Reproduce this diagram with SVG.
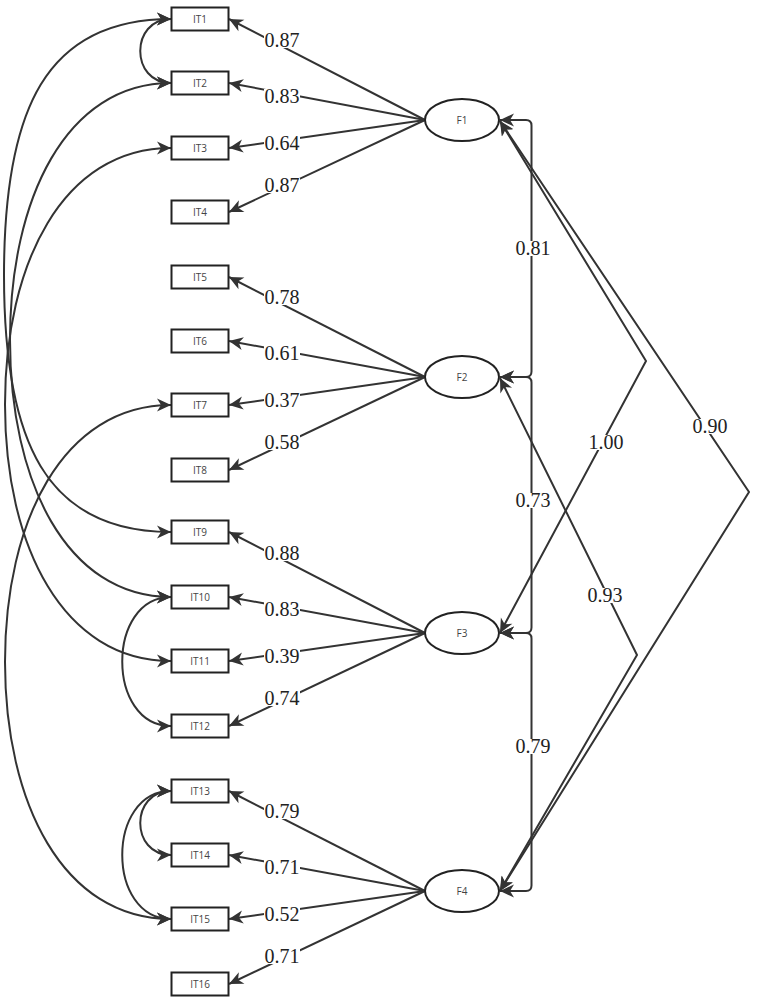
<svg xmlns="http://www.w3.org/2000/svg" width="760" height="1005" viewBox="0 0 760 1005">
<style>
.ln{fill:none;stroke:#333;stroke-width:2}
.lo{fill:none;stroke:#333;stroke-width:2;marker-end:url(#ar)}
.cv{fill:none;stroke:#333;stroke-width:2;marker-start:url(#ar);marker-end:url(#ar)}
.bx{fill:#fff;stroke:#222;stroke-width:2}
.el{fill:#fff;stroke:#222;stroke-width:2}
.bt{font-family:"Open Sans","Liberation Sans",sans-serif;font-size:10px;fill:#444;text-anchor:middle}
.lb{font-family:"Liberation Serif","Times New Roman",serif;font-size:20px;fill:#222;text-anchor:middle}
.bg{fill:#fff}
</style>
<defs>
<marker id="ar" viewBox="-15 -8 16 16" refX="0" refY="0" markerWidth="16" markerHeight="16" markerUnits="userSpaceOnUse" orient="auto-start-reverse">
<path d="M0,0 L-14,-6.5 L-10,0 L-14,6.5 Z" fill="#333"/>
</marker>
</defs>
<g id="connectors">
<path class="lo" d="M425,120 L229,19"/>
<path class="lo" d="M425,120 L229,83"/>
<path class="lo" d="M425,120 L229,148"/>
<path class="lo" d="M425,120 L229,212"/>
<path class="lo" d="M425,377 L229,277"/>
<path class="lo" d="M425,377 L229,341"/>
<path class="lo" d="M425,377 L229,405"/>
<path class="lo" d="M425,377 L229,470"/>
<path class="lo" d="M425,633 L229,532"/>
<path class="lo" d="M425,633 L229,597"/>
<path class="lo" d="M425,633 L229,661"/>
<path class="lo" d="M425,633 L229,726"/>
<path class="lo" d="M425,891 L229,791"/>
<path class="lo" d="M425,891 L229,855"/>
<path class="lo" d="M425,891 L229,919"/>
<path class="lo" d="M425,891 L229,984"/>
<path class="cv" d="M171,19 C130,19 130,83 171,83"/>
<path class="cv" d="M171,19 C46,19 4,109 4,275.5 C4,442 46,532 171,532"/>
<path class="cv" d="M171,83 C66,83 10,199 10,340 C10,481 66,597 171,597"/>
<path class="cv" d="M171,148 C63,148 5,263 5,404.5 C5,546 63,661 171,661"/>
<path class="cv" d="M171,405 C63,405 5,521 5,662 C5,803 63,919 171,919"/>
<path class="cv" d="M171,597 C106,597 106,726 171,726"/>
<path class="cv" d="M171,791 C130,791 130,855 171,855"/>
<path class="cv" d="M171,791 C106,791 106,919 171,919"/>
<path class="cv" d="M500,120 H526 Q531.5,120 531.5,125.5 V371.5 Q531.5,377 526,377 H500"/>
<path class="cv" d="M500,377 H526 Q531.5,377 531.5,382.5 V627.5 Q531.5,633 526,633 H500"/>
<path class="cv" d="M500,633 H526 Q531.5,633 531.5,638.5 V885.5 Q531.5,891 526,891 H500"/>
<path class="cv" d="M500,121 L646,361 L500,633"/>
<path class="cv" d="M500,121 L749,492 L500,891"/>
<path class="cv" d="M500,378 L637,655 L500,891"/>
<g id="labels">
<rect class="bg" x="264" y="33" width="36" height="15"/><text class="lb" x="282" y="47">0.87</text>
<rect class="bg" x="264" y="89" width="36" height="15"/><text class="lb" x="282" y="103">0.83</text>
<rect class="bg" x="264" y="136" width="36" height="15"/><text class="lb" x="282" y="150">0.64</text>
<rect class="bg" x="264" y="178" width="36" height="15"/><text class="lb" x="282" y="192">0.87</text>
<rect class="bg" x="264" y="290" width="36" height="15"/><text class="lb" x="282" y="304">0.78</text>
<rect class="bg" x="264" y="346" width="36" height="15"/><text class="lb" x="282" y="360">0.61</text>
<rect class="bg" x="264" y="393" width="36" height="15"/><text class="lb" x="282" y="407">0.37</text>
<rect class="bg" x="264" y="435" width="36" height="15"/><text class="lb" x="282" y="449">0.58</text>
<rect class="bg" x="264" y="546" width="36" height="15"/><text class="lb" x="282" y="560">0.88</text>
<rect class="bg" x="264" y="602" width="36" height="15"/><text class="lb" x="282" y="616">0.83</text>
<rect class="bg" x="264" y="649" width="36" height="15"/><text class="lb" x="282" y="663">0.39</text>
<rect class="bg" x="264" y="691" width="36" height="15"/><text class="lb" x="282" y="705">0.74</text>
<rect class="bg" x="264" y="804" width="36" height="15"/><text class="lb" x="282" y="818">0.79</text>
<rect class="bg" x="264" y="860" width="36" height="15"/><text class="lb" x="282" y="874">0.71</text>
<rect class="bg" x="264" y="907" width="36" height="15"/><text class="lb" x="282" y="921">0.52</text>
<rect class="bg" x="264" y="949" width="36" height="15"/><text class="lb" x="282" y="963">0.71</text>
<rect class="bg" x="515" y="241" width="36" height="15"/><text class="lb" x="533" y="255">0.81</text>
<rect class="bg" x="515" y="493" width="36" height="15"/><text class="lb" x="533" y="507">0.73</text>
<rect class="bg" x="515" y="739" width="36" height="15"/><text class="lb" x="533" y="753">0.79</text>
<rect class="bg" x="588" y="435" width="36" height="15"/><text class="lb" x="606" y="449">1.00</text>
<rect class="bg" x="692" y="419" width="36" height="15"/><text class="lb" x="710" y="433">0.90</text>
<rect class="bg" x="587" y="588" width="36" height="15"/><text class="lb" x="605" y="602">0.93</text>
</g>
</g>
<g id="IT1"><rect class="bx" x="171.5" y="7.5" width="57" height="23"/><text class="bt" x="200" y="22.5">IT1</text></g>
<g id="IT2"><rect class="bx" x="171.5" y="71.5" width="57" height="23"/><text class="bt" x="200" y="86.5">IT2</text></g>
<g id="IT3"><rect class="bx" x="171.5" y="136.5" width="57" height="23"/><text class="bt" x="200" y="151.5">IT3</text></g>
<g id="IT4"><rect class="bx" x="171.5" y="200.5" width="57" height="23"/><text class="bt" x="200" y="215.5">IT4</text></g>
<g id="IT5"><rect class="bx" x="171.5" y="265.5" width="57" height="23"/><text class="bt" x="200" y="280.5">IT5</text></g>
<g id="IT6"><rect class="bx" x="171.5" y="329.5" width="57" height="23"/><text class="bt" x="200" y="344.5">IT6</text></g>
<g id="IT7"><rect class="bx" x="171.5" y="393.5" width="57" height="23"/><text class="bt" x="200" y="408.5">IT7</text></g>
<g id="IT8"><rect class="bx" x="171.5" y="458.5" width="57" height="23"/><text class="bt" x="200" y="473.5">IT8</text></g>
<g id="IT9"><rect class="bx" x="171.5" y="520.5" width="57" height="23"/><text class="bt" x="200" y="535.5">IT9</text></g>
<g id="IT10"><rect class="bx" x="171.5" y="585.5" width="57" height="23"/><text class="bt" x="200" y="600.5">IT10</text></g>
<g id="IT11"><rect class="bx" x="171.5" y="649.5" width="57" height="23"/><text class="bt" x="200" y="664.5">IT11</text></g>
<g id="IT12"><rect class="bx" x="171.5" y="714.5" width="57" height="23"/><text class="bt" x="200" y="729.5">IT12</text></g>
<g id="IT13"><rect class="bx" x="171.5" y="779.5" width="57" height="23"/><text class="bt" x="200" y="794.5">IT13</text></g>
<g id="IT14"><rect class="bx" x="171.5" y="843.5" width="57" height="23"/><text class="bt" x="200" y="858.5">IT14</text></g>
<g id="IT15"><rect class="bx" x="171.5" y="907.5" width="57" height="23"/><text class="bt" x="200" y="922.5">IT15</text></g>
<g id="IT16"><rect class="bx" x="171.5" y="972.5" width="57" height="23"/><text class="bt" x="200" y="987.5">IT16</text></g>
<g id="F1"><ellipse class="el" cx="462" cy="120" rx="37" ry="21"/><text class="bt" x="462" y="123.5">F1</text></g>
<g id="F2"><ellipse class="el" cx="462" cy="377" rx="37" ry="21"/><text class="bt" x="462" y="380.5">F2</text></g>
<g id="F3"><ellipse class="el" cx="462" cy="633" rx="37" ry="21"/><text class="bt" x="462" y="636.5">F3</text></g>
<g id="F4"><ellipse class="el" cx="462" cy="891" rx="37" ry="21"/><text class="bt" x="462" y="894.5">F4</text></g>
</svg>
